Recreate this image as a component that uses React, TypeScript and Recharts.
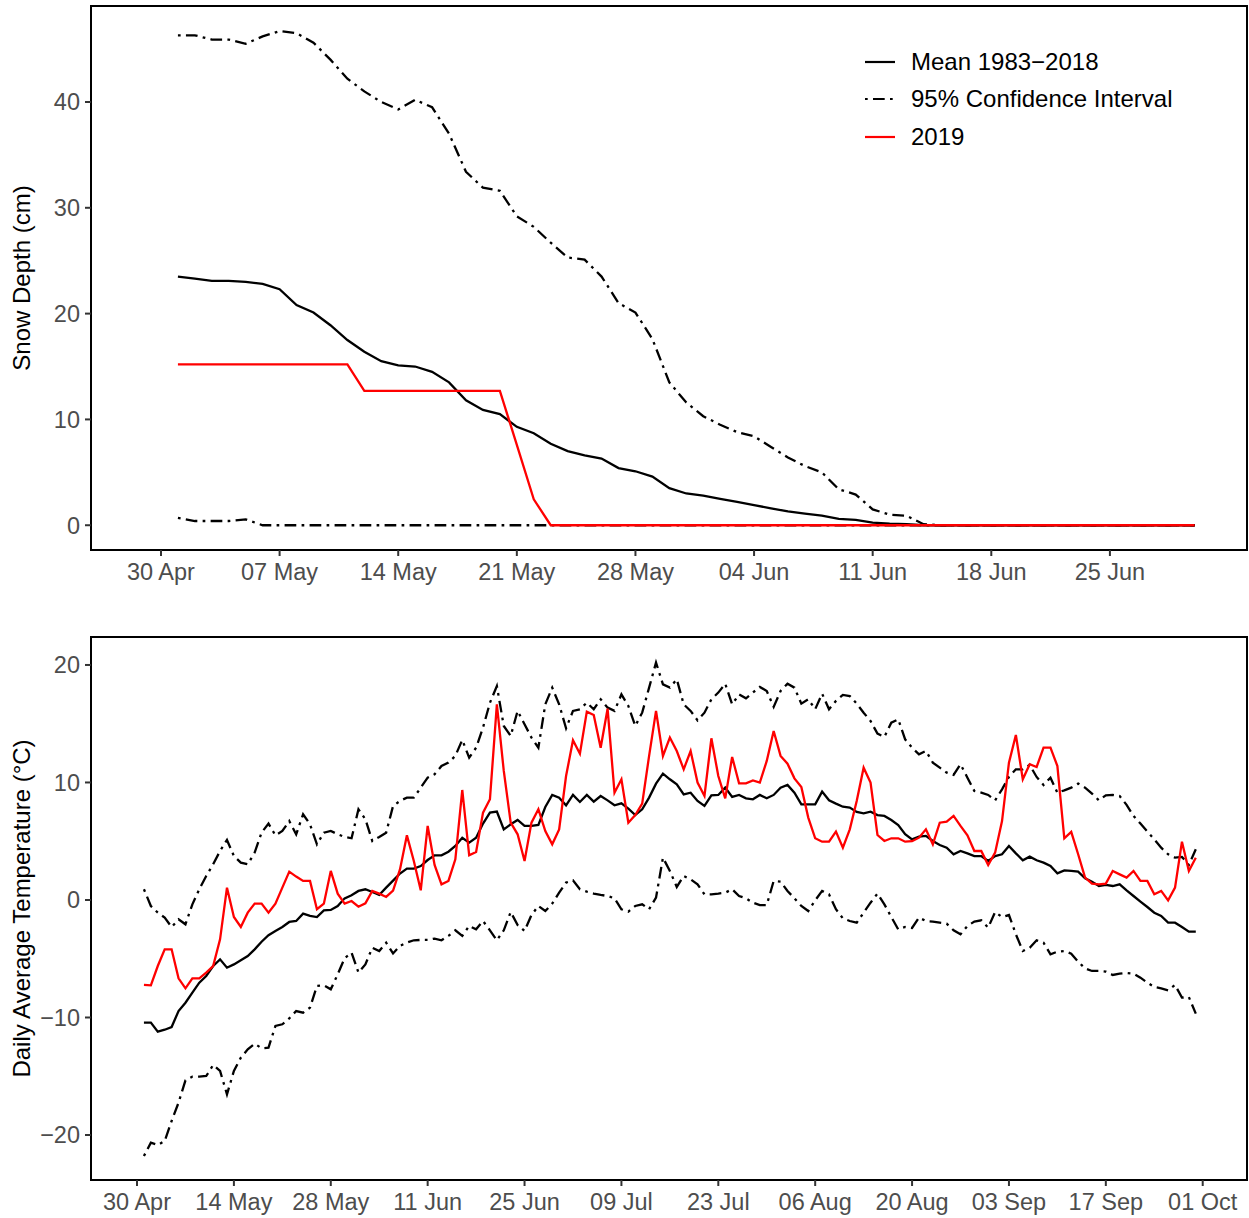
import React from "react";
import { LineChart, Line, XAxis, YAxis, ReferenceArea, Legend } from "recharts";

const FONT = '"Liberation Sans", Arial, Helvetica, sans-serif';
const CI_DASH = "2.7 5.3 11.7 5.3";
const TICK_GREY = "#4D4D4D";

// ---- snow depth, days after 30 Apr (1 = 01 May ... 61 = 30 Jun)
const snowMean = [
  23.5, 23.3, 23.1, 23.1, 23.0, 22.8, 22.3, 20.8, 20.1, 18.9,
  17.5, 16.4, 15.5, 15.1, 15.0, 14.5, 13.5, 11.8, 10.9, 10.5,
  9.3, 8.7, 7.7, 7.0, 6.6, 6.3, 5.4, 5.1, 4.6, 3.5,
  3.0, 2.8, 2.5, 2.2, 1.9, 1.6, 1.3, 1.1, 0.9, 0.6,
  0.5, 0.25, 0.15, 0.1, 0, 0, 0, 0, 0, 0,
  0, 0, 0, 0, 0, 0, 0, 0, 0, 0,
  0,
];
const snowUpper = [
  46.3, 46.3, 45.9, 45.9, 45.5, 46.2, 46.7, 46.5, 45.6, 44.0,
  42.2, 41.0, 40.0, 39.3, 40.2, 39.5, 37.0, 33.4, 31.9, 31.6,
  29.2, 28.2, 26.7, 25.3, 25.1, 23.5, 21.0, 20.1, 17.6, 13.5,
  11.6, 10.3, 9.5, 8.8, 8.4, 7.4, 6.4, 5.6, 5.0, 3.4,
  2.9, 1.5, 1.0, 0.9, 0.1, 0, 0, 0, 0, 0,
  0, 0, 0, 0, 0, 0, 0, 0, 0, 0,
  0,
];
const snowLower = [
  0.7, 0.4, 0.4, 0.4, 0.55, 0, 0, 0, 0, 0,
  0, 0, 0, 0, 0, 0, 0, 0, 0, 0,
  0, 0, 0, 0, 0, 0, 0, 0, 0, 0,
  0, 0, 0, 0, 0, 0, 0, 0, 0, 0,
  0, 0, 0, 0, 0, 0, 0, 0, 0, 0,
  0, 0, 0, 0, 0, 0, 0, 0, 0, 0,
  0,
];
const snow2019 = [
  15.2, 15.2, 15.2, 15.2, 15.2, 15.2, 15.2, 15.2, 15.2, 15.2,
  15.2, 12.7, 12.7, 12.7, 12.7, 12.7, 12.7, 12.7, 12.7, 12.7,
  7.6, 2.45, 0, 0, 0, 0, 0, 0, 0, 0,
  0, 0, 0, 0, 0, 0, 0, 0, 0, 0,
  0, 0, 0, 0, 0, 0, 0, 0, 0, 0,
  0, 0, 0, 0, 0, 0, 0, 0, 0, 0,
  0,
];

// ---- daily temperature, days after 30 Apr (1 = 01 May ... 153 = 30 Sep)
const tempMean = [
  -10.44, -10.44, -11.2, -11.04, -10.81, -9.45, -8.74, -7.89, -7.04, -6.47,
  -5.62, -5.05, -5.76, -5.48, -5.13, -4.77, -4.2, -3.55, -3.0, -2.64,
  -2.3, -1.87, -1.79, -1.16, -1.36, -1.45, -0.88, -0.85, -0.51, 0.14,
  0.4, 0.77, 0.91, 0.68, 0.43, 1.05, 1.65, 2.25, 2.67, 2.67,
  2.89, 3.4, 3.8, 3.8, 4.11, 4.6, 5.3, 4.88, 5.3, 6.5,
  7.43, 7.52, 6.01, 6.44, 6.81, 6.3, 6.3, 6.38, 7.91, 8.94,
  8.71, 8.06, 8.94, 8.34, 8.94, 8.37, 8.85, 8.48, 8.06, 8.23,
  7.77, 7.23, 7.72, 8.71, 9.9, 10.75, 10.27, 9.84, 8.99, 9.13,
  8.43, 8.0, 8.91, 8.94, 9.56, 8.77, 8.94, 8.65, 8.57, 8.94,
  8.65, 8.94, 9.56, 9.79, 9.13, 8.14, 8.14, 8.14, 9.22, 8.48,
  8.2, 7.94, 7.86, 7.49, 7.38, 7.52, 7.23, 7.15, 6.81, 6.38,
  5.59, 5.16, 5.4, 5.45, 5.02, 4.68, 4.45, 3.89, 4.17, 3.97,
  3.74, 3.74, 3.32, 3.74, 3.89, 4.6, 3.97, 3.38, 3.69, 3.38,
  3.18, 2.89, 2.27, 2.52, 2.47, 2.41, 1.84, 1.56, 1.19, 1.28,
  1.19, 1.33, 0.82, 0.34, -0.14, -0.6, -1.08, -1.36, -1.93, -1.93,
  -2.3, -2.7, -2.7,
];
const temp2019 = [
  -7.23, -7.26, -5.62, -4.2, -4.2, -6.67, -7.52, -6.67, -6.67, -6.18,
  -5.62, -3.35, 1.05, -1.45, -2.3, -1.08, -0.31, -0.31, -1.08, -0.31,
  1.05, 2.41, 1.99, 1.62, 1.62, -0.79, -0.31, 2.47, 0.54, -0.31,
  -0.09, -0.57, -0.28, 0.77, 0.54, 0.26, 0.8, 2.6, 5.5, 3.32,
  0.82, 6.3, 2.98, 1.33, 1.62, 3.46, 9.36, 3.8, 4.09, 7.43,
  8.57, 16.65, 10.98, 6.58, 5.59, 3.32, 6.58, 7.72, 5.87, 4.74,
  6.01, 10.55, 13.59, 12.45, 16.03, 15.74, 12.96, 16.28, 9.13, 10.27,
  6.58, 7.23, 8.2, 12.26, 16.09, 12.26, 13.82, 12.68, 11.12, 12.68,
  9.99, 8.85, 13.76, 10.55, 8.65, 12.17, 9.93, 9.93, 10.18, 9.99,
  11.83, 14.38, 12.26, 11.6, 10.35, 9.62, 7.01, 5.25, 4.96, 4.96,
  5.82, 4.45, 6.01, 8.43, 11.26, 9.99, 5.53, 5.02, 5.25, 5.25,
  4.96, 5.0, 5.3, 6.01, 4.74, 6.58, 6.67, 7.15, 6.3, 5.5,
  4.17, 4.17, 2.98, 4.03, 6.72, 11.69, 14.04, 10.27, 11.55, 11.32,
  12.96, 12.96, 11.4, 5.25, 5.79, 3.89, 1.9, 1.39, 1.33, 1.39,
  2.47, 2.18, 1.9, 2.47, 1.62, 1.62, 0.48, 0.77, -0.03, 1.05,
  4.96, 2.47, 3.6,
];
const tempUpper = [
  0.91, -0.51, -1.08, -1.5, -2.3, -1.65, -2.07, -0.37, 0.91, 2.04,
  3.04, 4.17, 5.11, 3.74, 3.18, 3.04, 4.03, 5.73, 6.5, 5.5,
  5.87, 6.72, 5.59, 7.29, 6.44, 4.74, 5.73, 5.87, 5.59, 5.36,
  5.25, 7.72, 6.87, 5.02, 5.36, 5.73, 8.0, 8.43, 8.71, 8.71,
  9.56, 10.41, 10.7, 11.4, 11.69, 12.26, 13.62, 12.11, 12.96, 14.67,
  16.79, 18.21, 14.81, 13.96, 16.09, 14.95, 13.82, 12.96, 16.65, 18.07,
  16.65, 14.61, 16.09, 16.23, 16.79, 16.23, 17.08, 16.37, 16.09, 17.5,
  16.51, 14.81, 15.94, 18.07, 20.2, 18.35, 18.07, 18.78, 16.65, 16.09,
  15.29, 15.94, 17.08, 17.65, 18.41, 16.65, 17.5, 17.16, 17.65, 18.13,
  17.79, 16.43, 17.79, 18.41, 18.07, 16.71, 17.08, 16.23, 17.56, 16.23,
  16.94, 17.45, 17.36, 16.71, 15.94, 15.23, 14.16, 13.87, 15.09, 15.38,
  13.67, 12.96, 12.4, 12.68, 11.69, 11.26, 10.84, 10.64, 11.55, 10.41,
  9.28, 9.13, 8.94, 8.48, 9.42, 10.47, 11.12, 11.12, 11.49, 10.47,
  9.79, 10.41, 9.13, 9.33, 9.56, 9.9, 9.56, 9.05, 8.48, 8.91,
  8.94, 8.85, 8.09, 7.15, 6.5, 5.82, 5.16, 4.45, 3.89, 3.6,
  3.66, 2.98, 4.31,
];
const tempLower = [
  -21.79, -20.65, -20.85, -20.51, -18.81, -17.25, -15.35, -15.04, -15.04, -14.98,
  -14.04, -14.55, -16.54, -14.55, -13.42, -12.71, -12.23, -12.62, -12.57, -10.72,
  -10.58, -10.07, -9.45, -9.59, -9.16, -7.32, -7.26, -7.6, -6.33, -4.96,
  -4.48, -6.18, -5.48, -4.06, -4.34, -3.63, -4.55, -3.91, -3.63, -3.43,
  -3.4, -3.4, -3.29, -3.43, -3.06, -2.58, -3.06, -2.21, -2.5, -1.79,
  -2.58, -3.43, -2.58, -1.02, -2.13, -2.64, -1.28, -0.51, -0.94, -0.31,
  0.62, 1.48, 1.67, 0.91, 0.71, 0.54, 0.43, 0.34, 0.14, -0.79,
  -0.99, -0.51, -0.37, -0.79, 0.2, 3.6, 2.47, 1.11, 2.04, 1.76,
  1.33, 0.48, 0.48, 0.54, 0.62, 0.91, 0.34, 0.14, -0.23, -0.43,
  -0.43, 1.62, 1.56, 0.77, 0.14, -0.51, -0.94, -0.03, 0.77, 0.48,
  -0.79, -1.56, -1.79, -1.93, -1.08, -0.23, 0.54, -0.37, -1.45, -2.5,
  -2.3, -2.38, -1.5, -1.79, -1.84, -1.93, -2.01, -2.58, -2.92, -2.21,
  -1.84, -1.73, -2.35, -1.02, -1.45, -1.28, -2.92, -4.34, -4.06, -3.43,
  -3.63, -4.62, -4.4, -4.34, -4.57, -5.25, -5.82, -6.04, -6.04, -6.1,
  -6.38, -6.27, -6.21, -6.27, -6.61, -7.04, -7.4, -7.52, -7.69, -7.23,
  -8.31, -8.26, -9.67,
];

const snowTickDays = [0, 7, 14, 21, 28, 35, 42, 49, 56];
const snowTickLabels = ["30 Apr", "07 May", "14 May", "21 May", "28 May", "04 Jun", "11 Jun", "18 Jun", "25 Jun"];
const tempTickDays = [0, 14, 28, 42, 56, 70, 84, 98, 112, 126, 140, 154];
const tempTickLabels = [
  "30 Apr", "14 May", "28 May", "11 Jun", "25 Jun", "09 Jul",
  "23 Jul", "06 Aug", "20 Aug", "03 Sep", "17 Sep", "01 Oct",
];
const snowYTicks = [0, 10, 20, 30, 40];
const tempYTicks = [-20, -10, 0, 10, 20];
const legendLabels = ["Mean 1983\u22122018", "95% Confidence Interval", "2019"];

const SNOW_X: [number, number] = [-4.13, 64.09];
const SNOW_Y: [number, number] = [-2.34, 49.07];
const TEMP_X: [number, number] = [-6.65, 160.4];
const TEMP_Y: [number, number] = [-23.83, 22.38];

const snowData = snowMean.map((m, i) => ({
  d: i + 1,
  mean: m,
  upper: snowUpper[i],
  lower: snowLower[i],
  y2019: snow2019[i],
}));

const tempData = tempMean.map((m, i) => ({
  d: i + 1,
  mean: m,
  upper: tempUpper[i],
  lower: tempLower[i],
  y2019: temp2019[i],
}));

const legendStyles = [
  { stroke: "#000000", dash: undefined as string | undefined },
  { stroke: "#000000", dash: CI_DASH },
  { stroke: "#FF0000", dash: undefined as string | undefined },
];

function SnowLegend() {
  return (
    <div style={{ fontFamily: FONT, fontSize: 24, color: "#000" }}>
      {legendLabels.map((label, i) => (
        <div key={label} style={{ display: "flex", alignItems: "center", height: 37.5 }}>
          <svg width={30} height={10} style={{ marginRight: 16, flex: "none" }}>
            <line
              x1={0}
              y1={5}
              x2={30}
              y2={5}
              stroke={legendStyles[i].stroke}
              strokeWidth={2.2}
              strokeDasharray={legendStyles[i].dash}
            />
          </svg>
          <span style={{ whiteSpace: "nowrap" }}>{label}</span>
        </div>
      ))}
    </div>
  );
}

function yTitle(text: string) {
  return (props: any) => {
    const vb = props.viewBox || { y: 0, height: 0 };
    const cy = vb.y + vb.height / 2;
    return (
      <text
        x={30}
        y={cy}
        transform={`rotate(-90, 30, ${cy})`}
        textAnchor="middle"
        fontSize={24}
        fontFamily={FONT}
        fill="#000"
      >
        {text}
      </text>
    );
  };
}

const tickStyle = { fontSize: 23.5, fill: TICK_GREY, fontFamily: FONT };
const tickLineStyle = { stroke: "#333333", strokeWidth: 2 };
const minus = (v: number) => String(v).replace("-", "\u2212");

export default function App() {
  return (
    <div style={{ position: "absolute", left: 0, top: 0, width: 1249, height: 1218, background: "#fff" }}>
      <LineChart width={1249} height={600} data={snowData} margin={{ top: 6, right: 2, bottom: 10, left: 0 }}>
        <XAxis
          dataKey="d"
          type="number"
          domain={SNOW_X}
          allowDataOverflow
          ticks={snowTickDays}
          interval={0}
          tickFormatter={(v) => snowTickLabels[snowTickDays.indexOf(v)]}
          axisLine={false}
          tickLine={tickLineStyle}
          tickSize={6}
          tickMargin={7}
          tick={tickStyle}
          height={40}
        />
        <YAxis
          type="number"
          domain={SNOW_Y}
          allowDataOverflow
          ticks={snowYTicks}
          interval={0}
          axisLine={false}
          tickLine={tickLineStyle}
          tickSize={6}
          tickMargin={5}
          tick={tickStyle}
          width={91}
          label={yTitle("Snow Depth (cm)")}
        />
        <Line type="linear" dataKey="lower" stroke="#000" strokeWidth={2.3} strokeDasharray={CI_DASH} dot={false} activeDot={false} isAnimationActive={false} />
        <Line type="linear" dataKey="upper" stroke="#000" strokeWidth={2.3} strokeDasharray={CI_DASH} dot={false} activeDot={false} isAnimationActive={false} />
        <Line type="linear" dataKey="mean" stroke="#000" strokeWidth={2.3} dot={false} activeDot={false} isAnimationActive={false} />
        <Line type="linear" dataKey="y2019" stroke="#FF0000" strokeWidth={2.3} dot={false} activeDot={false} isAnimationActive={false} />
        <ReferenceArea
          x1={SNOW_X[0]}
          x2={SNOW_X[1]}
          y1={SNOW_Y[0]}
          y2={SNOW_Y[1]}
          fill="none"
          fillOpacity={0}
          stroke="#000"
          strokeWidth={2}
          ifOverflow="visible"
        />
        <Legend
          layout="vertical"
          align="center"
          verticalAlign="middle"
          wrapperStyle={{ top: 43, left: 865, width: 360 }}
          content={() => <SnowLegend />}
        />
      </LineChart>
      <LineChart width={1249} height={618} data={tempData} margin={{ top: 37, right: 2, bottom: 0, left: 0 }}>
        <XAxis
          dataKey="d"
          type="number"
          domain={TEMP_X}
          allowDataOverflow
          ticks={tempTickDays}
          interval={0}
          tickFormatter={(v) => tempTickLabels[tempTickDays.indexOf(v)]}
          axisLine={false}
          tickLine={tickLineStyle}
          tickSize={6}
          tickMargin={7}
          tick={tickStyle}
          height={38}
        />
        <YAxis
          type="number"
          domain={TEMP_Y}
          allowDataOverflow
          ticks={tempYTicks}
          interval={0}
          tickFormatter={minus}
          axisLine={false}
          tickLine={tickLineStyle}
          tickSize={6}
          tickMargin={5}
          tick={tickStyle}
          width={91}
          label={yTitle("Daily Average Temperature (\u00B0C)")}
        />
        <Line type="linear" dataKey="lower" stroke="#000" strokeWidth={2.3} strokeDasharray={CI_DASH} dot={false} activeDot={false} isAnimationActive={false} />
        <Line type="linear" dataKey="upper" stroke="#000" strokeWidth={2.3} strokeDasharray={CI_DASH} dot={false} activeDot={false} isAnimationActive={false} />
        <Line type="linear" dataKey="mean" stroke="#000" strokeWidth={2.3} dot={false} activeDot={false} isAnimationActive={false} />
        <Line type="linear" dataKey="y2019" stroke="#FF0000" strokeWidth={2.3} dot={false} activeDot={false} isAnimationActive={false} />
        <ReferenceArea
          x1={TEMP_X[0]}
          x2={TEMP_X[1]}
          y1={TEMP_Y[0]}
          y2={TEMP_Y[1]}
          fill="none"
          fillOpacity={0}
          stroke="#000"
          strokeWidth={2}
          ifOverflow="visible"
        />
      </LineChart>
    </div>
  );
}
